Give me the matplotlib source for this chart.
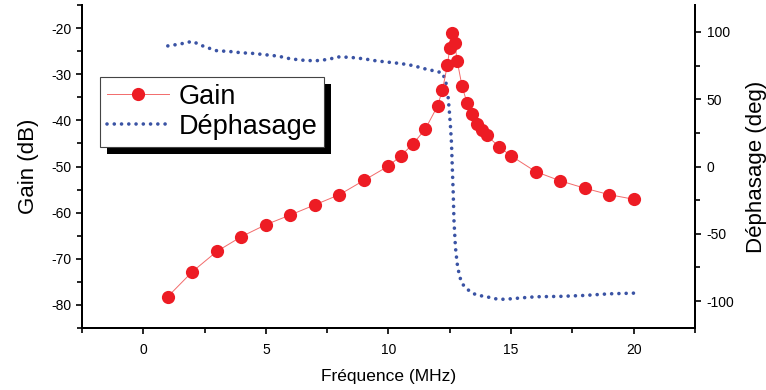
import numpy as np
import matplotlib
matplotlib.use('Agg')
import matplotlib.pyplot as plt
from matplotlib.patches import Rectangle
from matplotlib.transforms import IdentityTransform
from matplotlib.ticker import MultipleLocator

plt.rcParams['font.family'] = ['Liberation Sans', 'DejaVu Sans']
plt.rcParams['axes.unicode_minus'] = False

## Gain (dB) vs fréquence (MHz)
gain_freq = [1, 2, 3, 4, 5, 6, 7, 8, 9, 10, 10.5, 11, 11.5, 12, 12.2, 12.4, 12.5, 12.6, 12.7,
             12.8, 13, 13.2, 13.4, 13.6, 13.8, 14, 14.5, 15, 16, 17, 18, 19, 20]
gain_db = [-78.2, -72.8, -68.4, -65.2, -62.6, -60.5, -58.3, -56.1, -53.0, -49.9, -47.7, -45.1,
           -41.9, -36.9, -33.4, -28.1, -24.3, -21.0, -23.2, -27.1, -32.6, -36.2, -38.6, -40.8,
           -42.1, -43.2, -45.7, -47.7, -51.1, -53.1, -54.7, -56.1, -57.1]

## Déphasage (deg)
phase_freq = [1.0, 1.5, 2.0, 2.5, 3.0, 3.5, 4.0, 4.5, 5.0, 5.5, 6.0, 6.5, 7.0, 7.5, 8.0, 8.5,
              9.0, 9.5, 10.0, 10.5, 11.0, 11.5, 12.0, 12.2, 12.33, 12.42, 12.48, 12.53, 12.57,
              12.6, 12.64, 12.67, 12.73, 12.8, 12.88, 12.95, 13.05, 13.2, 13.4, 13.6, 14.0,
              14.5, 15.0, 15.5, 16.0, 17.0, 18.0, 19.0, 20.0]
phase_deg = [89.6, 91, 93, 89, 86, 85.5, 84.5, 84, 83, 82, 80, 79, 78.5, 79.5, 81.5, 81,
             80, 78.5, 77.5, 76.5, 75, 72.5, 70.5, 69.5, 63.7, 54, 41.5, 29, 17,
             0, -20, -40, -60, -72, -80, -84.5, -88, -91, -93.8, -95.5, -96.8,
             -98.8, -98.3, -97.5, -96.8, -96.5, -95.8, -94.6, -94.1]

red = '#ED1C24'
blue = '#3A53A4'

fig = plt.figure(figsize=(7.66, 3.90), dpi=100)
ax1 = fig.add_axes([82 / 766, 1 - 328 / 390, 613 / 766, 323 / 390])
ax2 = ax1.twinx()

## dotted phase curve : round dots
ax2.plot(phase_freq, phase_deg, color=blue, lw=2.6, linestyle=(0, (0.01, 2.0)),
         dash_capstyle='round', label='Déphasage')
ax1.plot(gain_freq, gain_db, color='#F26B6B', lw=0.7, marker='o', markersize=9.5,
         markerfacecolor=red, markeredgecolor=red, markeredgewidth=0, label='Gain')

ax1.set_zorder(ax2.get_zorder() + 1)
ax1.patch.set_visible(False)

ax1.set_xlim(-2.5, 22.5)
ax1.set_ylim(-85, -15)
ax2.set_ylim(-120, 120)

ax1.xaxis.set_major_locator(MultipleLocator(5))
ax1.xaxis.set_minor_locator(MultipleLocator(2.5))
ax1.yaxis.set_major_locator(MultipleLocator(10))
ax1.yaxis.set_minor_locator(MultipleLocator(5))
ax2.yaxis.set_major_locator(MultipleLocator(50))
ax2.yaxis.set_minor_locator(MultipleLocator(25))

for ax in (ax1, ax2):
    ax.spines['top'].set_visible(False)
    for s in ax.spines.values():
        s.set_linewidth(1.4)
    ax.tick_params(which='major', direction='out', length=4.5, width=1.2, labelsize=10)
    ax.tick_params(which='minor', direction='out', length=3.5, width=1.2)

ax1.tick_params(axis='x', pad=6)
ax1.tick_params(axis='y', pad=3)
ax2.tick_params(axis='y', pad=4)

ax1.set_xlabel('Fréquence (MHz)', fontsize=12.5, labelpad=9)
ax1.set_ylabel('Gain (dB)', fontsize=16, labelpad=9)
ax2.set_ylabel('Déphasage (deg)', fontsize=16, labelpad=8)

h1, l1 = ax1.get_legend_handles_labels()
h2, l2 = ax2.get_legend_handles_labels()
leg = ax1.legend(h1 + h2, l1 + l2, loc='upper left',
                 bbox_to_anchor=(100 / 766, 1 - 77 / 390), bbox_transform=fig.transFigure,
                 fontsize=19.5, frameon=True, fancybox=False, framealpha=1,
                 edgecolor='#444444', borderpad=0.25, handlelength=2.3,
                 handletextpad=0.35, labelspacing=0.15, borderaxespad=0)
leg.get_frame().set_linewidth(0.8)

## black shadow, offset down-right
fig.canvas.draw()
bb = leg.get_window_extent()
shadow = Rectangle((bb.x0 + 7, bb.y0 - 7), bb.width, bb.height, transform=IdentityTransform(),
                   facecolor='black', edgecolor='none', zorder=leg.get_zorder() - 0.1)
ax1.add_artist(shadow)

fig.savefig('out.png', dpi=100)
